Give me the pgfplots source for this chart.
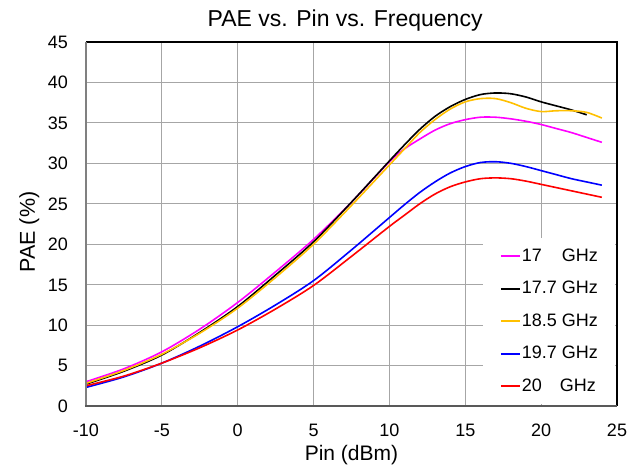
\documentclass[border=0pt]{standalone}
\usepackage{fontspec}
\setmainfont{Liberation Sans}
\usepackage{pgfplots}
\pgfplotsset{compat=1.18}
\definecolor{gridc}{HTML}{A6A6A6}
\definecolor{amber}{HTML}{FFC000}
\definecolor{mag}{HTML}{FF00FF}
\definecolor{bl}{HTML}{0000FF}
\definecolor{rd}{HTML}{FF0000}
\begin{document}
\begin{tikzpicture}
\begin{axis}[
  scale only axis, width=531bp, height=364bp,
  xmin=-10, xmax=25, ymin=0, ymax=45,
  xtick={-10,-5,...,25}, ytick={0,5,...,45},
  grid=major, major grid style={gridc, line width=1bp},
  major tick length=0pt,
  axis line style={draw=none},
  clip=false,
  /pgf/number format/assume math mode=true,
  tick label style={font=\fontsize{18bp}{21bp}\selectfont, inner sep=0pt},
  xticklabel style={anchor=base, yshift=-30bp},
  yticklabel style={anchor=base east, xshift=-18bp, yshift=-6.4bp},
  title={PAE vs. Pin vs. Frequency},
  title style={at={(axis description cs:0.488,1.0275)}, anchor=base, font=\fontsize{23bp}{27bp}\selectfont, inner sep=0pt},
  xlabel={Pin (dBm)},
  xlabel style={at={(axis description cs:0.5,-0.151)}, anchor=base, font=\fontsize{21bp}{25bp}\selectfont, inner sep=0pt},
  legend cell align=left,
  legend image code/.code={\draw[#1] (0bp,0bp) -- (19bp,0bp);},
  legend style={at={(axis description cs:0.7476,0.4615)}, anchor=north west, fill=white, draw=none,
    inner xsep=17bp, inner ysep=10bp, row sep=16.5bp, column sep=1bp,
    font=\fontsize{18bp}{21bp}\selectfont,
    nodes={inner sep=0pt, text height=13bp, text depth=3bp}},
  every axis plot/.append style={line width=1.6bp, smooth},
]
\addplot[mag] coordinates {(-10,3.0) (-7.5,4.6) (-5,6.7) (-2.5,9.5) (0,12.8) (2.5,16.6) (5,20.6) (7.5,25.2) (10,30.2) (11,31.8) (12,33.0) (13,34.1) (14,34.9) (15,35.4) (16,35.7) (17,35.7) (18,35.5) (19,35.2) (20,34.8) (21,34.3) (22,33.8) (23,33.2) (24,32.6)};
\addlegendentry{17\phantom{.7} GHz}
\addplot[black] coordinates {(-10,2.7) (-7.5,4.3) (-5,6.3) (-2.5,9.1) (0,12.3) (2.5,16.2) (5,20.3) (7.5,25.2) (10,30.3) (11,32.3) (12,34.2) (13,35.8) (14,37.0) (15,37.9) (16,38.5) (17,38.7) (18,38.6) (19,38.2) (20,37.6) (21,37.1) (22,36.6) (23,36.0)};
\addlegendentry{17.7 GHz}
\addplot[amber] coordinates {(-10,2.8) (-7.5,4.4) (-5,6.4) (-2.5,9.0) (0,12.1) (2.5,15.9) (5,20.0) (7.5,24.8) (10,29.8) (11,31.8) (12,33.8) (13,35.4) (14,36.7) (15,37.6) (16,38.0) (17,38.0) (18,37.5) (19,36.8) (20,36.4) (21,36.5) (22,36.5) (23,36.3) (24,35.6)};
\addlegendentry{18.5 GHz}
\addplot[bl] coordinates {(-10,2.3) (-7.5,3.6) (-5,5.3) (-2.5,7.4) (0,9.8) (2.5,12.5) (5,15.5) (7.5,19.3) (10,23.3) (11,24.9) (12,26.4) (13,27.7) (14,28.8) (15,29.6) (16,30.1) (17,30.2) (18,30.0) (19,29.6) (20,29.1) (21,28.6) (22,28.1) (23,27.7) (24,27.3)};
\addlegendentry{19.7 GHz}
\addplot[rd] coordinates {(-10,2.5) (-7.5,3.7) (-5,5.3) (-2.5,7.2) (0,9.4) (2.5,12.0) (5,14.9) (7.5,18.5) (10,22.2) (11,23.6) (12,25.0) (13,26.2) (14,27.1) (15,27.7) (16,28.1) (17,28.2) (18,28.1) (19,27.8) (20,27.4) (21,27.0) (22,26.6) (23,26.2) (24,25.8)};
\addlegendentry{20\phantom{.7}\hspace{-2bp} GHz}
\draw[black, line width=1.4bp] (rel axis cs:0,1) -- (rel axis cs:1,1) -- (rel axis cs:1,0);
\draw[gray, line width=2bp] (rel axis cs:0,0) -- (rel axis cs:0,1);
\draw[black!65, line width=2.5bp] (rel axis cs:-0.002,0) -- (rel axis cs:1,0);
\end{axis}
\node[rotate=90, anchor=base, font=\fontsize{21.5bp}{25bp}\selectfont, inner sep=0pt] at ([xshift=-51bp, yshift=-8bp]current axis.west) {PAE (\%)};
\pgfresetboundingbox
\path ([shift={(-86bp,-62bp)}]current axis.south west) rectangle ([shift={(11bp,42bp)}]current axis.north east);
\end{tikzpicture}
\end{document}
